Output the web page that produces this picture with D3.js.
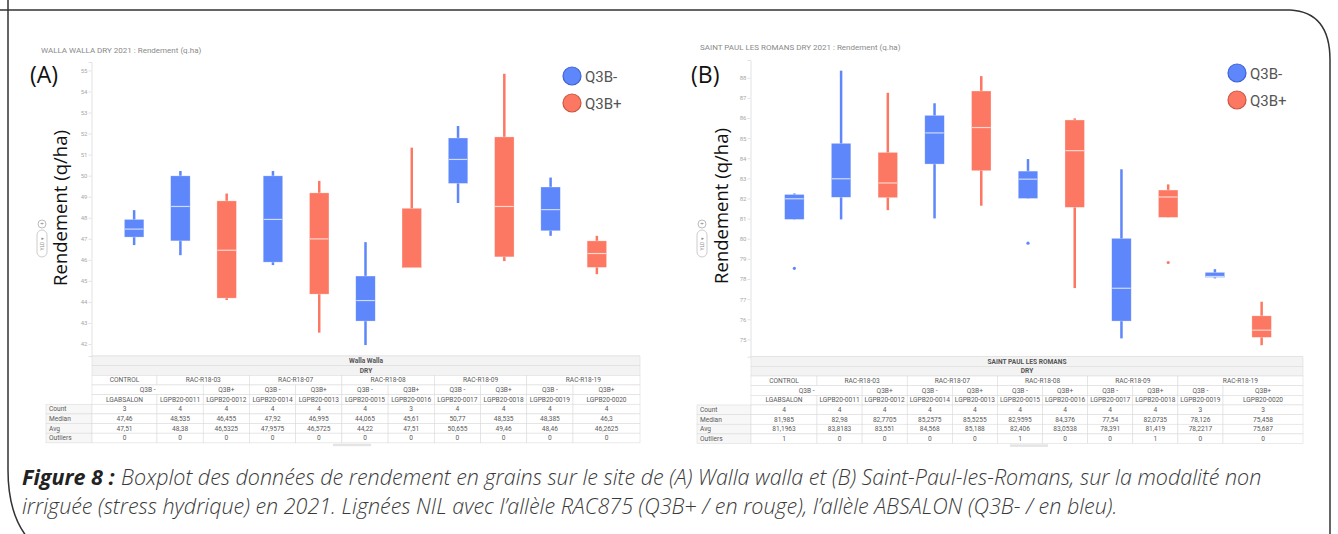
<!DOCTYPE html>
<html>
<head>
<meta charset="utf-8">
<script src="https://cdn.jsdelivr.net/npm/d3@7"></script>
<style>
  body { margin: 0; background: #fff; }
  svg { display: block; }
</style>
</head>
<body>
<div id="chart"></div>
<script>
// Boxplots of grain yield, two sites, dry modality 2021

const lines    = ["LGABSALON", "LGPB20-0011", "LGPB20-0012", "LGPB20-0014", "LGPB20-0013", "LGPB20-0015",
                  "LGPB20-0016", "LGPB20-0017", "LGPB20-0018", "LGPB20-0019", "LGPB20-0020"];
const families = ["CONTROL", "RAC-R18-03", "RAC-R18-07", "RAC-R18-08", "RAC-R18-09", "RAC-R18-19"];
const alleles  = ["Q3B -", "Q3B -", "Q3B+", "Q3B -", "Q3B+", "Q3B -", "Q3B+", "Q3B -", "Q3B+", "Q3B -", "Q3B+"];
const rowNames = ["Count", "Median", "Avg", "Outliers"];

// Walla Walla (A)
const wwLow    = [46.70, 46.22, 44.09, 45.75, 42.54, 41.95, 45.61, 48.70, 45.94, 47.14, 45.32];
const wwQ1     = [47.08, 46.90, 44.18, 45.89, 44.37, 43.09, 45.61, 49.63, 46.14, 47.38, 45.64];
const wwMedian = [47.46, 48.535, 46.455, 47.92, 46.995, 44.065, 45.61, 50.77, 48.535, 48.385, 46.3];
const wwQ3     = [47.92, 49.99, 48.80, 49.99, 49.18, 45.23, 48.45, 51.79, 51.84, 49.46, 46.90];
const wwHigh   = [48.36, 50.22, 49.15, 50.22, 49.75, 46.84, 51.33, 52.36, 54.84, 49.91, 47.14];
const wwOut    = [[], [], [], [], [], [], [], [], [], [], []];
const wwTicks  = [42, 43, 44, 45, 46, 47, 48, 49, 50, 51, 52, 53, 54, 55];
const wwCount  = ["3", "4", "4", "4", "4", "4", "3", "4", "4", "4", "4"];
const wwMedTxt = ["47,46", "48,535", "46,455", "47,92", "46,995", "44,065", "45,61", "50,77", "48,535", "48,385", "46,3"];
const wwAvgTxt = ["47,51", "48,38", "46,5325", "47,9575", "46,5725", "44,22", "47,51", "50,655", "49,46", "48,46", "46,2625"];
const wwOutTxt = ["0", "0", "0", "0", "0", "0", "0", "0", "0", "0", "0"];

// Saint Paul les Romans (B)
const spLow    = [80.96, 80.96, 81.42, 81.01, 81.64, 82.00, 77.55, 75.05, 81.06, 78.03, 74.71];
const spQ1     = [80.96, 82.06, 82.04, 83.71, 83.38, 82.00, 81.56, 75.91, 81.06, 78.08, 75.10];
const spMedian = [81.985, 82.98, 82.7705, 85.2575, 85.5255, 82.9595, 84.376, 77.54, 82.0735, 78.126, 75.458];
const spQ3     = [82.20, 84.74, 84.29, 86.13, 87.34, 83.36, 85.90, 80.02, 82.42, 78.33, 76.17];
const spHigh   = [82.25, 88.35, 87.25, 86.73, 88.08, 83.96, 85.98, 83.45, 82.70, 78.49, 76.87];
const spOut    = [[78.53], [], [], [], [], [79.78], [], [], [78.82], [], []];
const spTicks  = [75, 76, 77, 78, 79, 80, 81, 82, 83, 84, 85, 86, 87, 88];
const spCount  = ["4", "4", "4", "4", "4", "4", "4", "4", "4", "3", "3"];
const spMedTxt = ["81,985", "82,98", "82,7705", "85,2575", "85,5255", "82,9595", "84,376", "77,54", "82,0735", "78,126", "75,458"];
const spAvgTxt = ["81,1963", "83,8183", "83,551", "84,568", "85,188", "82,406", "83,0538", "78,391", "81,419", "78,2217", "75,687"];
const spOutTxt = ["1", "0", "0", "0", "0", "1", "0", "0", "1", "0", "0"];

const captionBold = "Figure 8 :";
const captionLine1 = "Boxplot des données de rendement en grains sur le site de (A) Walla walla et (B) Saint-Paul-les-Romans, sur la modalité non";
const captionLine2 = "irriguée (stress hydrique) en 2021. Lignées NIL avec l’allèle RAC875 (Q3B+ / en rouge), l’allèle ABSALON (Q3B- / en bleu).";

const BLUE = "#5d87fa", RED = "#fc7862";
const BLUE_EDGE = "#3d62d6", RED_EDGE = "#cf5542";
const W = 1338, H = 534;

const svg = d3.select("#chart").append("svg")
  .attr("width", W).attr("height", H);

// outer frame (rounded top-right and bottom-left corners)
svg.append("path")
  .attr("d", "M8,-2 L8,470 Q8,534 50,556 M0,10 L1290,10 Q1330,12 1330,60 L1330,534")
  .attr("fill", "none")
  .attr("stroke", "#333")
  .attr("stroke-width", 1.5);

function panel(o) {
  const g = svg.append("g");
  const y = d3.scaleLinear().domain(o.yDomain).range([o.yBottom, o.yTop]);
  const x = d3.scaleBand().domain(lines).range(o.xRange);
  const boxW = 19.5;

  g.append("text")
    .attr("x", o.titleX).attr("y", o.titleY)
    .style("font-family", "Roboto, sans-serif")
    .style("font-size", "8px")
    .style("fill", "#8a8a8a")
    .text(o.title);

  g.append("text")
    .attr("x", o.letterX).attr("y", 83)
    .style("font-family", "'Open Sans', sans-serif")
    .style("font-size", "23px")
    .style("fill", "#111")
    .text(o.letter);

  // y axis
  const axis = g.append("g")
    .attr("transform", `translate(${o.axisX},0)`)
    .call(d3.axisLeft(y).tickValues(o.ticks).tickSize(3).tickFormat(d3.format("d")));
  axis.select(".domain").attr("stroke", "#e2e2e2");
  axis.selectAll(".tick line").attr("stroke", "#e2e2e2");
  axis.selectAll(".tick text")
    .attr("x", -4)
    .style("font-family", "Roboto, sans-serif")
    .style("font-size", "6px")
    .style("fill", "#a8a8a8");

  g.append("line")
    .attr("x1", o.axisX).attr("x2", o.tableX[o.tableX.length - 1])
    .attr("y1", o.yBottom + 0.5).attr("y2", o.yBottom + 0.5)
    .attr("stroke", "#e6e6e6").attr("stroke-width", 2);

  // big axis label
  g.append("text")
    .attr("transform", `translate(${o.labelX},${o.labelY}) rotate(-90)`)
    .attr("text-anchor", "middle")
    .style("font-family", "'Open Sans', sans-serif")
    .style("font-size", "18.5px")
    .style("fill", "#111")
    .text("Rendement (q/ha)");

  // small YLD control
  const ctl = g.append("g").attr("transform", `translate(${o.ctlX},0)`);
  ctl.append("circle").attr("cx", 0).attr("cy", 224).attr("r", 4)
    .attr("fill", "#fff").attr("stroke", "#bbb");
  ctl.append("text").attr("x", 0).attr("y", 226).attr("text-anchor", "middle")
    .style("font-size", "7px").style("fill", "#777").text("+");
  ctl.append("rect").attr("x", -5).attr("y", 230).attr("width", 10).attr("height", 27).attr("rx", 5)
    .attr("fill", "#fff").attr("stroke", "#ccc");
  ctl.append("text")
    .attr("transform", "translate(2,244) rotate(-90)")
    .attr("text-anchor", "middle")
    .style("font-family", "Roboto, sans-serif")
    .style("font-size", "5px").style("fill", "#888")
    .text("YLD ▾");

  // boxes
  const data = lines.map((k, i) => ({
    k, lo: o.low[i], q1: o.q1[i], med: o.median[i], q3: o.q3[i], hi: o.high[i], out: o.out[i],
    color: alleles[i] === "Q3B+" ? RED : BLUE
  }));
  const cx = d => x(d.k) + x.bandwidth() / 2;

  g.selectAll(".whisker").data(data).join("line")
    .attr("x1", cx).attr("x2", cx)
    .attr("y1", d => y(d.hi)).attr("y2", d => y(d.lo))
    .attr("stroke", d => d.color).attr("stroke-width", 2.5);

  g.selectAll(".box").data(data).join("rect")
    .attr("x", d => cx(d) - boxW / 2)
    .attr("y", d => y(d.q3))
    .attr("width", boxW)
    .attr("height", d => Math.max(1.5, y(d.q1) - y(d.q3)))
    .attr("fill", d => d.color)
    .attr("stroke", "#fff").attr("stroke-opacity", 0.5).attr("stroke-width", 0.6);

  g.selectAll(".median").data(data).join("line")
    .attr("x1", d => cx(d) - boxW / 2 + 0.5).attr("x2", d => cx(d) + boxW / 2 - 0.5)
    .attr("y1", d => y(d.med)).attr("y2", d => y(d.med))
    .attr("stroke", "#fff").attr("stroke-opacity", 0.7).attr("stroke-width", 1.2);

  data.forEach(d => d.out.forEach(v => {
    g.append("circle").attr("cx", cx(d)).attr("cy", y(v)).attr("r", 1.6).attr("fill", d.color);
  }));

  // legend
  [["Q3B-", BLUE, BLUE_EDGE], ["Q3B+", RED, RED_EDGE]].forEach(([lab, c, e], i) => {
    g.append("circle")
      .attr("cx", o.legX).attr("cy", o.legY + i * 27).attr("r", 9)
      .attr("fill", c).attr("stroke", e).attr("stroke-width", 1.2);
    g.append("text")
      .attr("x", o.legX + 13).attr("y", o.legY + i * 27 + 5.5)
      .style("font-family", "Roboto, sans-serif")
      .style("font-size", "15px")
      .style("fill", "#555")
      .text(lab);
  });

  // table
  const tx = o.tableX;           // column edges, first = row header left
  const rowH = 9.65, t0 = o.yBottom;
  const ry = r => t0 + r * rowH;
  const left = tx[1], right = tx[tx.length - 1];
  const tg = g.append("g")
    .style("font-family", "Roboto, sans-serif")
    .style("font-size", "6.6px");

  const cell = (x0, x1, r, txt, opts = {}) => {
    tg.append("rect").attr("x", x0).attr("y", ry(r)).attr("width", x1 - x0).attr("height", rowH)
      .attr("fill", opts.fill || "#fff").attr("stroke", "#dcdcdc").attr("stroke-width", 0.6);
    tg.append("text")
      .attr("x", opts.anchor === "start" ? x0 + 3 : (x0 + x1) / 2)
      .attr("y", ry(r) + rowH / 2 + 2.3)
      .attr("text-anchor", opts.anchor || "middle")
      .style("font-weight", opts.bold ? "bold" : "normal")
      .style("fill", opts.color || "#5a5a5a")
      .text(txt);
  };

  cell(left, right, 0, o.site, { fill: "#f3f3f3", bold: true, color: "#555" });
  cell(left, right, 1, "DRY", { fill: "#f3f3f3", bold: true, color: "#555" });

  // family row: control alone, then pairs
  cell(tx[1], tx[2], 2, families[0]);
  for (let f = 1; f < families.length; f++) {
    cell(tx[2 * f], tx[2 * f + 2], 2, families[f]);
  }
  // allele row: the first Q3B - spans control and first line
  cell(tx[1], tx[3], 3, alleles[0]);
  for (let i = 2; i < lines.length; i++) cell(tx[i + 1], tx[i + 2], 3, alleles[i]);
  lines.forEach((k, i) => cell(tx[i + 1], tx[i + 2], 4, k));

  const rows = [o.count, o.medTxt, o.avgTxt, o.outTxt];
  rows.forEach((vals, r) => {
    cell(tx[0], tx[1], 5 + r, rowNames[r], { fill: "#f7f7f7", anchor: "start" });
    vals.forEach((v, i) => cell(tx[i + 1], tx[i + 2], 5 + r, v));
  });

  // little scroll handle under the table
  g.append("rect").attr("x", o.scrollX).attr("y", ry(9) + 0.8).attr("width", 38).attr("height", 2.5)
    .attr("fill", "#e4e4e4");
}

function edges(a, b, c, d) {
  const out = [a, b, c];
  const step = (d - c) / 9;
  for (let i = 1; i <= 9; i++) out.push(c + i * step);
  return out;
}

panel({
  title: "WALLA WALLA DRY 2021 : Rendement (q.ha)", titleX: 41, titleY: 53,
  letter: "(A)", letterX: 30,
  yDomain: [41.43, 55.4], yBottom: 356, yTop: 62, axisX: 91.5,
  xRange: [111, 620], ticks: wwTicks,
  labelX: 67, labelY: 208, ctlX: 42,
  low: wwLow, q1: wwQ1, median: wwMedian, q3: wwQ3, high: wwHigh, out: wwOut,
  legX: 572, legY: 76,
  site: "Walla Walla",
  tableX: edges(46, 92, 157, 573).concat([640]),
  count: wwCount, medTxt: wwMedTxt, avgTxt: wwAvgTxt, outTxt: wwOutTxt,
  scrollX: 333
});

panel({
  title: "SAINT PAUL LES ROMANS DRY 2021 : Rendement (q.ha)", titleX: 700, titleY: 50,
  letter: "(B)", letterX: 691,
  yDomain: [74.14, 88.88], yBottom: 356.7, yTop: 60, axisX: 750.5,
  xRange: [771, 1285], ticks: spTicks,
  labelX: 728, labelY: 206, ctlX: 702,
  low: spLow, q1: spQ1, median: spMedian, q3: spQ3, high: spHigh, out: spOut,
  legX: 1237, legY: 73,
  site: "SAINT PAUL LES ROMANS",
  tableX: edges(697, 751, 817, 1223).concat([1303]),
  count: spCount, medTxt: spMedTxt, avgTxt: spAvgTxt, outTxt: spOutTxt,
  scrollX: 1010
});

// caption, font size fitted so the first line runs from x=22 to x=1262
const capStyle = sel => sel
  .style("font-family", "'Open Sans', Lato, sans-serif")
  .style("font-style", "italic")
  .style("font-weight", 300)
  .style("font-size", "16px")
  .style("fill", "#3a3a3a");

const capBold = svg.append("text").attr("x", 22).attr("y", 485).call(capStyle)
  .style("font-weight", "bold").style("fill", "#222").text(captionBold);
const cap1 = svg.append("text").attr("y", 485).call(capStyle).text(captionLine1);
const cap2 = svg.append("text").attr("x", 22).attr("y", 513.5).call(capStyle).text(captionLine2);

const gapEm = 0.3;
const natural = capBold.node().getComputedTextLength() + cap1.node().getComputedTextLength() + gapEm * 16;
const size = 16 * (1262 - 22) / natural;
[capBold, cap1, cap2].forEach(t => t.style("font-size", size + "px"));
cap1.attr("x", 22 + capBold.node().getComputedTextLength() + gapEm * size);
</script>
</body>
</html>
